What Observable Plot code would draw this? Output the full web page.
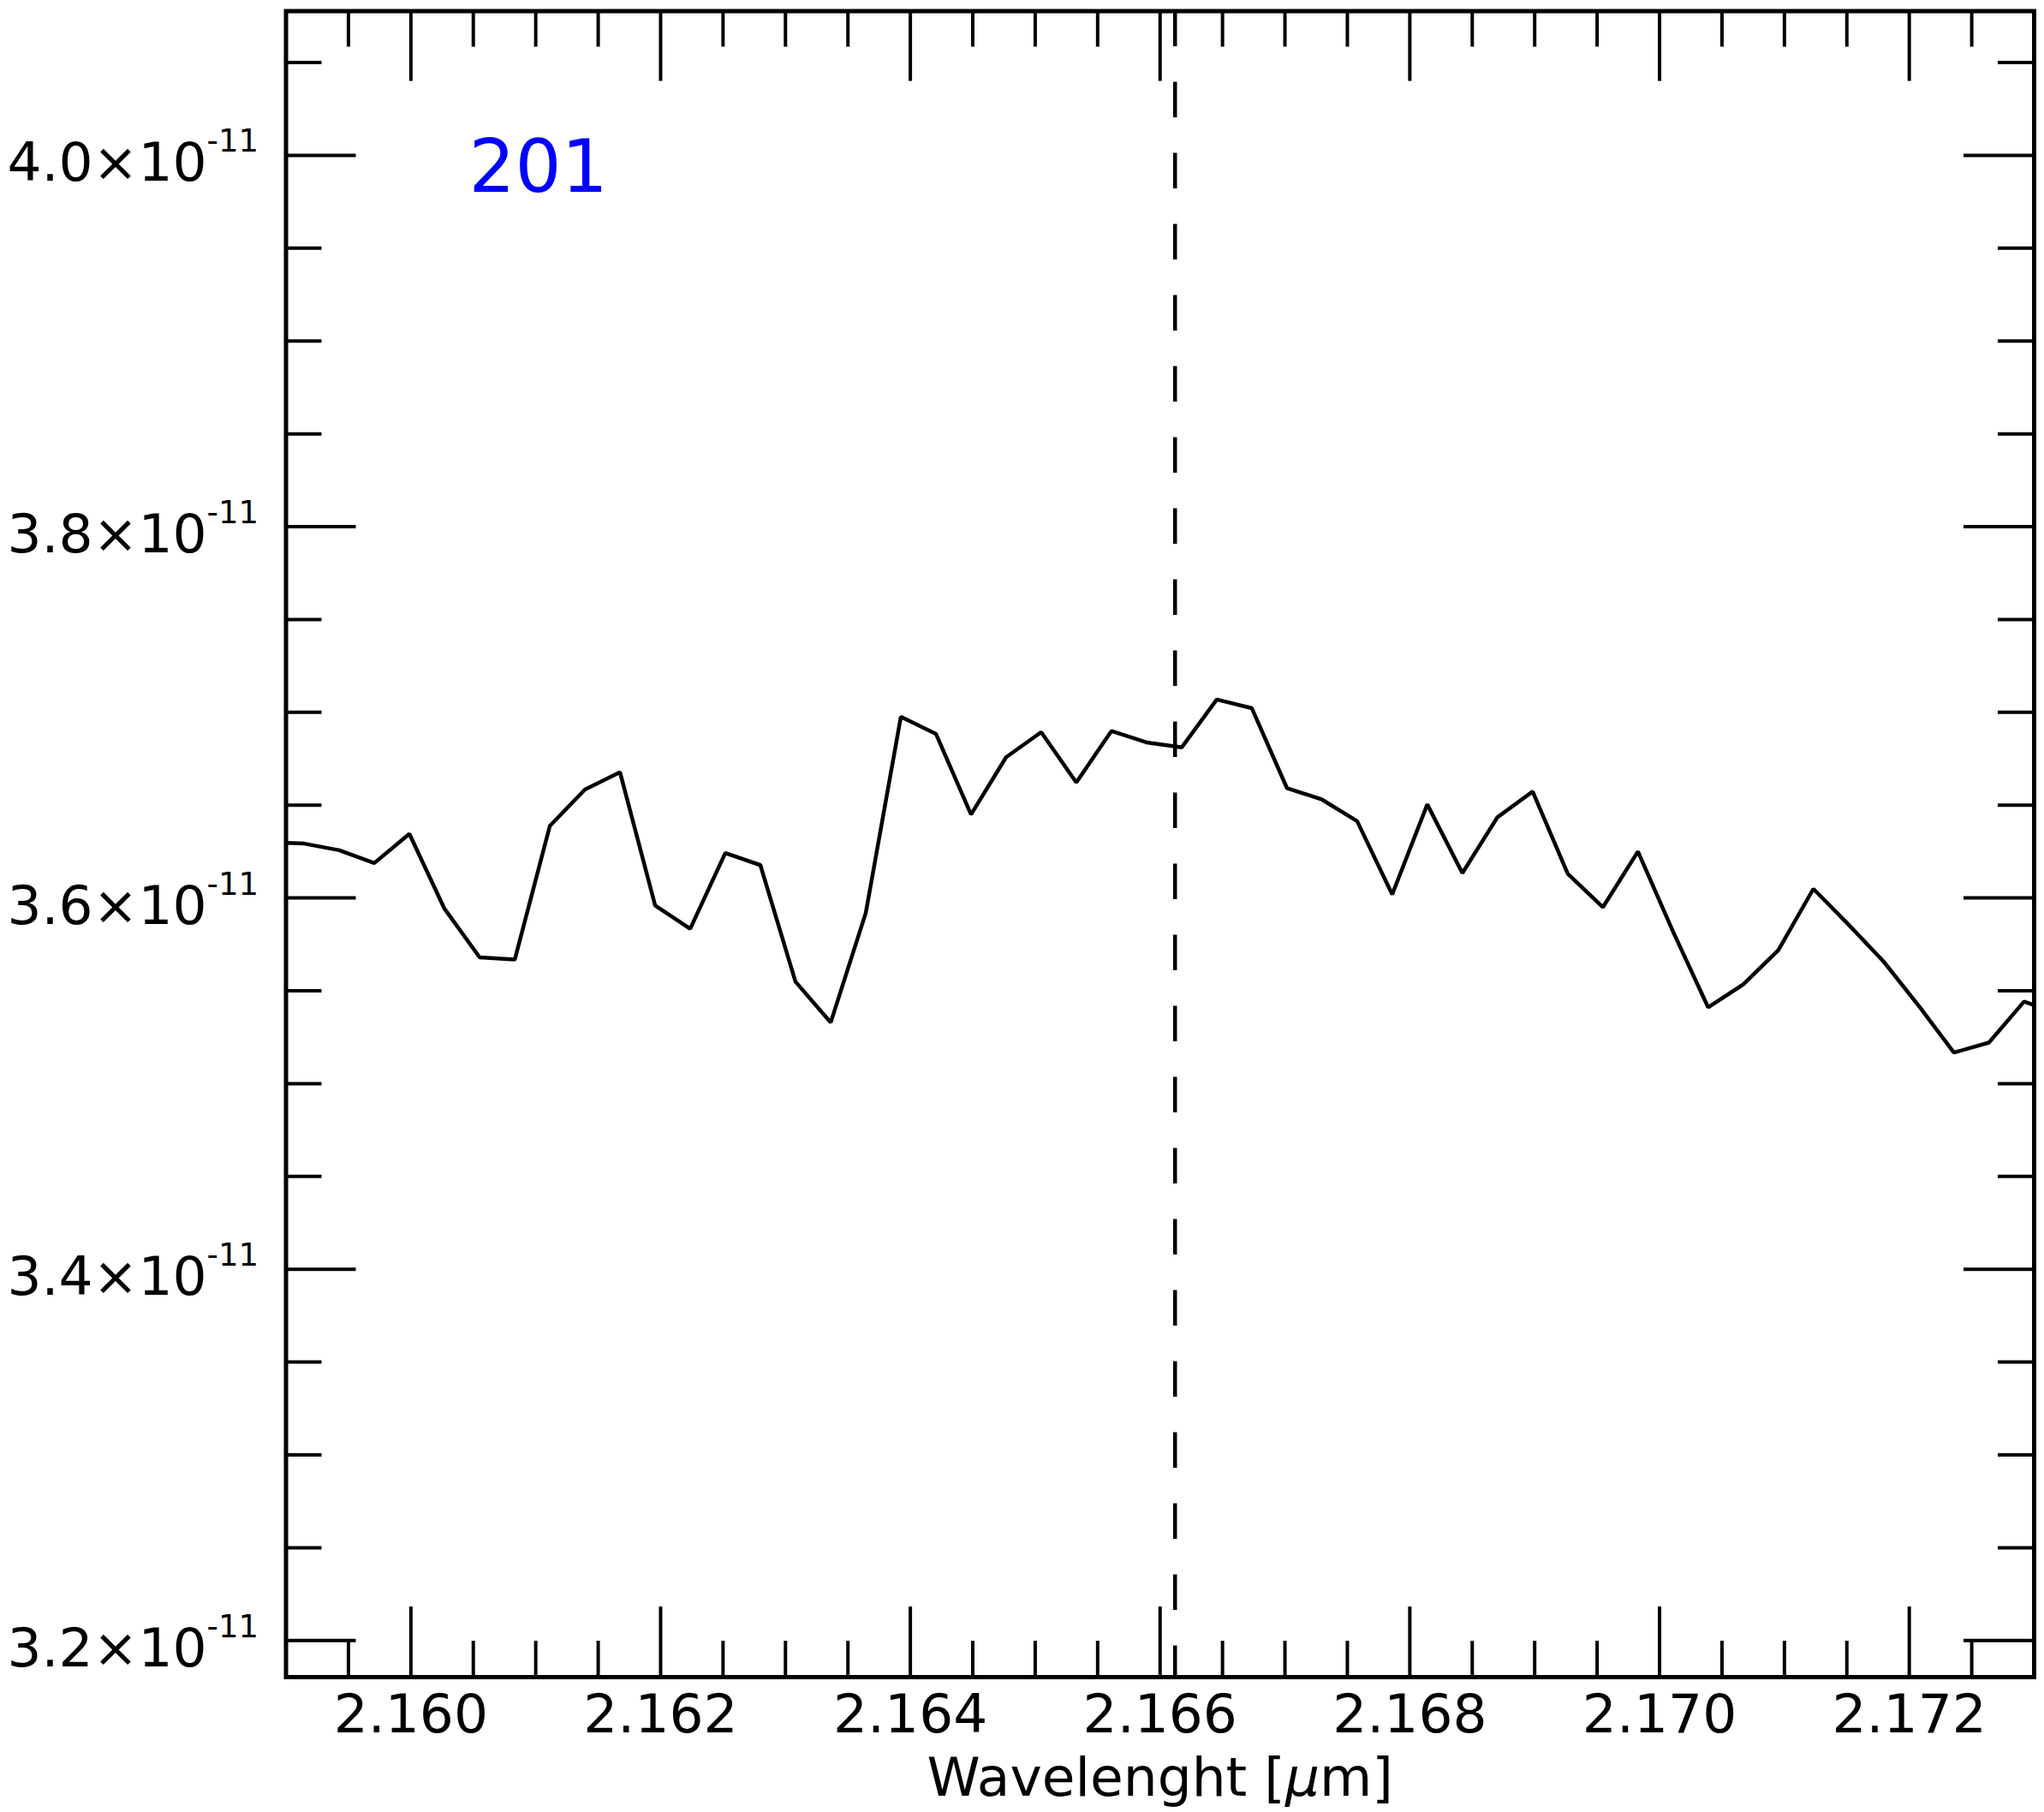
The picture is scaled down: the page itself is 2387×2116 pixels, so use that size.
<!DOCTYPE html>
<html>
<head>
<meta charset="utf-8">
<script src="https://cdn.jsdelivr.net/npm/d3@7"></script>
<script src="https://cdn.jsdelivr.net/npm/@observablehq/plot@0.6"></script>
<style>
  html, body { margin: 0; padding: 0; background: #ffffff; }
  svg { display: block; }
</style>
</head>
<body>
<div id="chart"></div>
<script>
// ---- data ----
const wavelength = [
  2.158864, 2.159145, 2.159426, 2.159707, 2.159988, 2.160269, 2.160551, 2.160832,
  2.161113, 2.161394, 2.161675, 2.161956, 2.162237, 2.162518, 2.162799, 2.163080,
  2.163362, 2.163643, 2.163924, 2.164205, 2.164486, 2.164767, 2.165048, 2.165329,
  2.165610, 2.165891, 2.166173, 2.166454, 2.166735, 2.167016, 2.167297, 2.167578,
  2.167859, 2.168140, 2.168421, 2.168702, 2.168984, 2.169265, 2.169546, 2.169827,
  2.170108, 2.170389, 2.170670, 2.170951, 2.171232, 2.171513, 2.171795, 2.172076,
  2.172357, 2.172638, 2.172919, 2.173200
];
const flux = [
  3.6300e-11, 3.6293e-11, 3.6257e-11, 3.6188e-11, 3.6345e-11, 3.5942e-11, 3.5680e-11, 3.5668e-11,
  3.6388e-11, 3.6584e-11, 3.6677e-11, 3.5960e-11, 3.5834e-11, 3.6242e-11, 3.6177e-11, 3.5549e-11,
  3.5329e-11, 3.5919e-11, 3.6976e-11, 3.6884e-11, 3.6450e-11, 3.6758e-11, 3.6893e-11, 3.6622e-11,
  3.6899e-11, 3.6838e-11, 3.6811e-11, 3.7069e-11, 3.7022e-11, 3.6592e-11, 3.6530e-11, 3.6414e-11,
  3.6019e-11, 3.6504e-11, 3.6134e-11, 3.6435e-11, 3.6573e-11, 3.6130e-11, 3.5950e-11, 3.6250e-11,
  3.5819e-11, 3.5411e-11, 3.5534e-11, 3.5719e-11, 3.6049e-11, 3.5857e-11, 3.5657e-11, 3.5419e-11,
  3.5167e-11, 3.5221e-11, 3.5442e-11, 3.5373e-11
];
const lineCenter = [2.16612];
const panelLabel = ["201"];

const xMajorTicks = [2.160, 2.162, 2.164, 2.166, 2.168, 2.170, 2.172];
const xTickLabels = ["2.160", "2.162", "2.164", "2.166", "2.168", "2.170", "2.172"];
const xMinorTicks = [2.1595, 2.1605, 2.1610, 2.1615, 2.1625, 2.1630, 2.1635, 2.1645, 2.1650, 2.1655,
                     2.1665, 2.1670, 2.1675, 2.1685, 2.1690, 2.1695, 2.1705, 2.1710, 2.1715, 2.1725];
const yMajorTicks = [3.2e-11, 3.4e-11, 3.6e-11, 3.8e-11, 4.0e-11];
const yTickMantissa = ["3.2×10", "3.4×10", "3.6×10", "3.8×10", "4.0×10"];
const yTickExponent = "-11";
const yMinorTicks = [3.25e-11, 3.30e-11, 3.35e-11, 3.45e-11, 3.50e-11, 3.55e-11, 3.65e-11,
                     3.70e-11, 3.75e-11, 3.85e-11, 3.90e-11, 3.95e-11, 4.05e-11];
const xAxisLabel = "Wavelenght [μm]";

const xDomain = [2.159, 2.173];
const yDomain = [3.1803e-11, 4.0777e-11];

// ---- layout ----
const W = 2387, H = 2116;
const mL = 333.5, mR = 12, mT = 12.5, mB = 158;
const frameW = W - mL - mR, frameH = H - mT - mB;
const majorLen = 82, minorLen = 42;
const font = "DejaVu Sans";

const rows = wavelength.map((w, i) => ({wl: w, f: flux[i]}));

const tickStyle = {stroke: "black", strokeWidth: 4};

const svg = Plot.plot({
  width: W, height: H,
  marginLeft: mL, marginRight: mR, marginTop: mT, marginBottom: mB,
  style: {background: "white", fontFamily: font},
  x: {domain: xDomain, axis: null},
  y: {domain: yDomain, axis: null},
  marks: [
    Plot.line(rows, {x: "wl", y: "f", stroke: "black", strokeWidth: 4.5, clip: true,
                     strokeLinejoin: "miter", strokeLinecap: "butt"}),
    Plot.ruleX(lineCenter, {x: d => d, stroke: "black", strokeWidth: 4.5, strokeDasharray: "41.5,41.5"}),
    // x ticks, bottom and top, inward
    Plot.ruleX(xMajorTicks, {x: d => d, insetTop: frameH - majorLen, ...tickStyle}),
    Plot.ruleX(xMajorTicks, {x: d => d, insetBottom: frameH - majorLen, ...tickStyle}),
    Plot.ruleX(xMinorTicks, {x: d => d, insetTop: frameH - minorLen, ...tickStyle}),
    Plot.ruleX(xMinorTicks, {x: d => d, insetBottom: frameH - minorLen, ...tickStyle}),
    // y ticks, left and right, inward
    Plot.ruleY(yMajorTicks, {y: d => d, insetRight: frameW - majorLen, ...tickStyle}),
    Plot.ruleY(yMajorTicks, {y: d => d, insetLeft: frameW - majorLen, ...tickStyle}),
    Plot.ruleY(yMinorTicks, {y: d => d, insetRight: frameW - minorLen, ...tickStyle}),
    Plot.ruleY(yMinorTicks, {y: d => d, insetLeft: frameW - minorLen, ...tickStyle}),
    Plot.frame({stroke: "black", strokeWidth: 5}),
    // tick labels
    Plot.text(xMajorTicks, {x: d => d, text: (d, i) => xTickLabels[i], frameAnchor: "bottom",
      dy: 64, lineAnchor: "bottom", textAnchor: "middle", fontSize: 63, fontFamily: font, fill: "black"}),
    Plot.text(yMajorTicks, {y: d => d, text: (d, i) => yTickMantissa[i], frameAnchor: "left",
      dx: -32, dy: 30, lineAnchor: "bottom", textAnchor: "end", fontSize: 63, fontFamily: font, fill: "black"}),
    // axis label
    Plot.text([xAxisLabel], {text: d => d, frameAnchor: "bottom", dy: 138, lineAnchor: "bottom",
      textAnchor: "middle", fontSize: 63, fontFamily: font, fill: "black"}),
    // panel label
    Plot.text(panelLabel, {text: d => d, frameAnchor: "top-left", dx: 547 - mL, dy: 223 - mT,
      lineAnchor: "bottom", textAnchor: "start", fontSize: 85, fontFamily: font, fill: "#0000ff"})
  ]
});

// superscript exponents and italic mu
const NS = "http://www.w3.org/2000/svg";
svg.querySelectorAll("text").forEach(t => {
  const s = t.textContent;
  if (yTickMantissa.includes(s)) {
    const ts = document.createElementNS(NS, "tspan");
    ts.setAttribute("dy", "-34");
    ts.setAttribute("font-size", "37");
    ts.textContent = yTickExponent;
    t.appendChild(ts);
  } else if (s === xAxisLabel) {
    const parts = s.split("μ");
    t.textContent = "";
    t.appendChild(document.createTextNode(parts[0]));
    const mu = document.createElementNS(NS, "tspan");
    mu.setAttribute("font-style", "italic");
    mu.textContent = "μ";
    t.appendChild(mu);
    t.appendChild(document.createTextNode(parts[1]));
  }
});

document.getElementById("chart").appendChild(svg);
</script>
</body>
</html>
